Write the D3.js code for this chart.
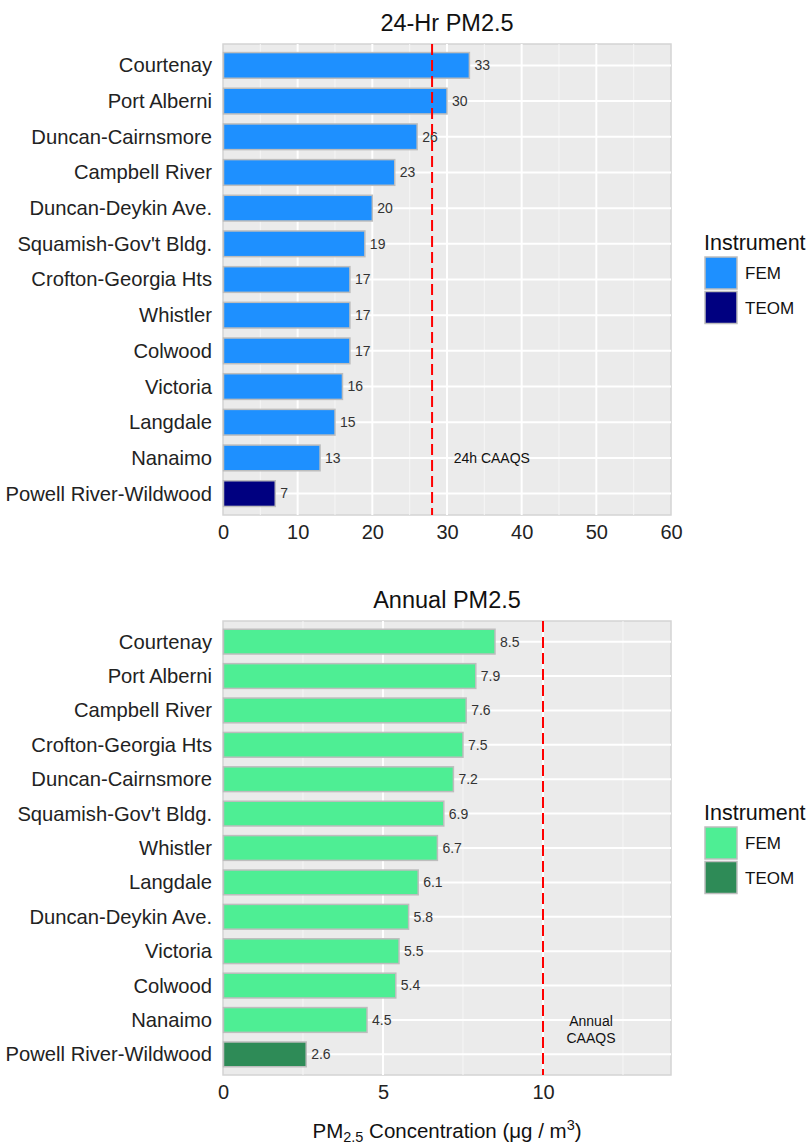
<!DOCTYPE html>
<html>
<head>
<meta charset="utf-8">
<script src="https://cdn.jsdelivr.net/npm/d3@7"></script>
<style>
  body { margin: 0; background: #fff; }
  svg text { font-family: "Liberation Sans", Arial, sans-serif; }
</style>
</head>
<body>
<div class="chart"></div>
<script>
// 24-hour panel
var dailySites = ["Courtenay", "Port Alberni", "Duncan-Cairnsmore", "Campbell River", "Duncan-Deykin Ave.",
  "Squamish-Gov't Bldg.", "Crofton-Georgia Hts", "Whistler", "Colwood", "Victoria", "Langdale", "Nanaimo",
  "Powell River-Wildwood"];
var dailyValues = [33, 30, 26, 23, 20, 19, 17, 17, 17, 16, 15, 13, 7];
var dailyInstrument = ["FEM", "FEM", "FEM", "FEM", "FEM", "FEM", "FEM", "FEM", "FEM", "FEM", "FEM", "FEM", "TEOM"];
var dailyTicks = [0, 10, 20, 30, 40, 50, 60];
var dailyMinor = [5, 15, 25, 35, 45, 55];

// annual panel
var annualSites = ["Courtenay", "Port Alberni", "Campbell River", "Crofton-Georgia Hts", "Duncan-Cairnsmore",
  "Squamish-Gov't Bldg.", "Whistler", "Langdale", "Duncan-Deykin Ave.", "Victoria", "Colwood", "Nanaimo",
  "Powell River-Wildwood"];
var annualValues = [8.5, 7.9, 7.6, 7.5, 7.2, 6.9, 6.7, 6.1, 5.8, 5.5, 5.4, 4.5, 2.6];
var annualInstrument = ["FEM", "FEM", "FEM", "FEM", "FEM", "FEM", "FEM", "FEM", "FEM", "FEM", "FEM", "FEM", "TEOM"];
var annualTicks = [0, 5, 10];
var annualMinor = [2.5, 7.5, 12.5];

var instruments = ["FEM", "TEOM"];

var svg = d3.select(".chart").append("svg").attr("width", 812).attr("height", 1146);

function drawPanel(opt) {
  var g = svg.append("g");
  var x = d3.scaleLinear().domain([0, opt.xmax]).range([223, 671]);
  var y = d3.scalePoint().domain(opt.sites).range([opt.top, opt.bottom]).padding(0.6);
  var step = y.step();
  var color = d3.scaleOrdinal().domain(instruments).range(opt.colors);
  var barH = step * 0.72;

  g.append("rect").attr("x", x.range()[0]).attr("y", opt.top)
    .attr("width", x.range()[1] - x.range()[0]).attr("height", opt.bottom - opt.top)
    .attr("fill", "#ebebeb").attr("stroke", "#d4d4d4").attr("stroke-width", 1.5);

  g.selectAll(".minor").data(opt.minor).enter().append("line")
    .attr("x1", x).attr("x2", x).attr("y1", opt.top).attr("y2", opt.bottom)
    .attr("stroke", "#f6f6f6").attr("stroke-width", 1);
  g.selectAll(".major").data(opt.ticks.slice(1, -1).concat(opt.ticks[opt.ticks.length - 1] < opt.xmax ? [opt.ticks[opt.ticks.length - 1]] : [])).enter().append("line")
    .attr("x1", x).attr("x2", x).attr("y1", opt.top).attr("y2", opt.bottom)
    .attr("stroke", "#fff").attr("stroke-width", 2);
  g.selectAll(".hgrid").data(opt.sites).enter().append("line")
    .attr("x1", x.range()[0]).attr("x2", x.range()[1])
    .attr("y1", function(d) { return y(d); }).attr("y2", function(d) { return y(d); })
    .attr("stroke", "#fff").attr("stroke-width", 2);

  var data = opt.sites.map(function(s, i) { return { site: s, value: opt.values[i], inst: opt.inst[i] }; });

  g.selectAll(".bar").data(data).enter().append("rect")
    .attr("x", x(0) + 0.5)
    .attr("y", function(d) { return y(d.site) - barH / 2; })
    .attr("width", function(d) { return x(d.value) - x(0) - 0.5; })
    .attr("height", barH)
    .attr("fill", function(d) { return color(d.inst); })
    .attr("stroke", "#bdbdbd").attr("stroke-width", 1.5);

  g.selectAll(".val").data(data).enter().append("text")
    .attr("x", function(d) { return x(d.value) + 5; })
    .attr("y", function(d) { return y(d.site); })
    .attr("dy", "0.35em").attr("font-size", 14).attr("fill", "#333")
    .text(function(d) { return opt.fmt(d.value); });

  g.append("line").attr("x1", x(opt.limit)).attr("x2", x(opt.limit))
    .attr("y1", opt.top).attr("y2", opt.bottom)
    .attr("stroke", "#ff0000").attr("stroke-width", 2).attr("stroke-dasharray", "11,5");

  var lab = g.append("text").attr("x", x(opt.labelX)).attr("text-anchor", "middle")
    .attr("font-size", 14).attr("fill", "#111");
  opt.labelLines.forEach(function(t, i) {
    lab.append("tspan").attr("x", x(opt.labelX))
      .attr("y", y(opt.labelSite) + opt.labelShift * step + (i - (opt.labelLines.length - 1) / 2) * 16.5)
      .attr("dy", "0.35em").text(t);
  });

  // axes
  var yAxis = g.append("g").attr("transform", "translate(" + (x.range()[0]) + ",0)")
    .call(d3.axisLeft(y).tickSize(0).tickPadding(11));
  yAxis.select(".domain").remove();
  yAxis.selectAll("text").attr("font-size", 20.2).attr("fill", "#222").attr("font-family", null);

  var xAxis = g.append("g").attr("transform", "translate(0," + opt.bottom + ")")
    .call(d3.axisBottom(x).tickValues(opt.ticks).tickSize(0).tickPadding(10));
  xAxis.select(".domain").remove();
  xAxis.selectAll("text").attr("font-size", 20).attr("fill", "#222").attr("font-family", null);

  g.append("text").attr("x", (x.range()[0] + x.range()[1]) / 2).attr("y", opt.top - 21)
    .attr("dy", "0.35em").attr("text-anchor", "middle").attr("font-size", 23.5).attr("fill", "#111")
    .text(opt.title);

  // legend
  var ly = opt.legendTop;
  g.append("text").attr("x", 704).attr("y", ly).attr("dy", "0.35em")
    .attr("font-size", 21.5).attr("fill", "#111").text("Instrument");
  var items = g.selectAll(".leg").data(instruments).enter().append("g")
    .attr("transform", function(d, i) { return "translate(705," + (ly + 15 + i * 34.5) + ")"; });
  items.append("rect").attr("width", 32).attr("height", 32)
    .attr("fill", function(d) { return color(d); })
    .attr("stroke", "#bdbdbd").attr("stroke-width", 1.5);
  items.append("text").attr("x", 40).attr("y", 16.5).attr("dy", "0.35em")
    .attr("font-size", 17).attr("fill", "#111").text(function(d) { return d; });
}

drawPanel({
  title: "24-Hr PM2.5", sites: dailySites, values: dailyValues, inst: dailyInstrument,
  ticks: dailyTicks, minor: dailyMinor, xmax: 60, top: 44, bottom: 515,
  colors: ["#1e90ff", "#000080"], limit: 28, labelX: 36, labelSite: "Nanaimo", labelShift: 0,
  labelLines: ["24h CAAQS"], legendTop: 242, fmt: d3.format("d")
});

drawPanel({
  title: "Annual PM2.5", sites: annualSites, values: annualValues, inst: annualInstrument,
  ticks: annualTicks, minor: annualMinor, xmax: 14, top: 621, bottom: 1075,
  colors: ["#4eee94", "#2e8b57"], limit: 10, labelX: 11.5, labelSite: "Nanaimo", labelShift: 0.28,
  labelLines: ["Annual", "CAAQS"], legendTop: 812, fmt: d3.format(".1f")
});

// shared x title with subscript / superscript
var xt = svg.append("text").attr("x", 447).attr("y", 1131).attr("dy", "0.35em")
  .attr("text-anchor", "middle").attr("font-size", 20.5).attr("fill", "#111");
xt.append("tspan").text("PM");
xt.append("tspan").attr("font-size", 14.5).attr("dy", 4).text("2.5");
xt.append("tspan").attr("dy", -4).text(" Concentration (\u03bcg / m");
xt.append("tspan").attr("font-size", 14.5).attr("dy", -8).text("3");
xt.append("tspan").attr("dy", 8).text(")");
</script>
</body>
</html>
